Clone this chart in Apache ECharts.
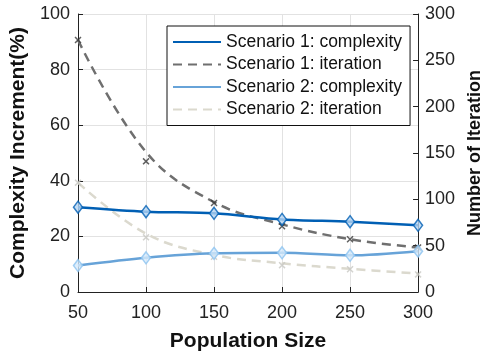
<!DOCTYPE html>
<html>
<head>
<meta charset="utf-8">
<script src="https://cdn.jsdelivr.net/npm/echarts@6/dist/echarts.min.js"></script>
<style>
  html, body { margin: 0; padding: 0; background: #fff; }
  #chart { width: 492px; height: 358px; }
</style>
</head>
<body>
<div id="chart"></div>
<script>
// data
var popSize = [50, 100, 150, 200, 250, 300];
var s1Complexity = [30.5, 28.9, 28.3, 26.1, 25.3, 24.0];
var s2Complexity = [9.5, 12.3, 13.9, 14.1, 13.2, 14.7];
// fitted (dashed) iteration curves
var s1IterFit = [272, 151, 97, 73, 57, 48];
var s2IterFit = [118, 63, 40, 31, 25, 20];
// measured iteration points
var s1IterObs = [272, 141, 96, 71, 57, 48];
var s2IterObs = [118, 59, 38, 29, 24.5, 19];
var leftTicks = [0, 20, 40, 60, 80, 100];
var rightTicks = [0, 50, 100, 150, 200, 250, 300];

function pairs(ys) {
  return popSize.map(function (x, i) { return [x, ys[i]]; });
}

var FONT = 'Liberation Sans';
// small filled "x" marker
var crossPath = 'path://M1.5,0L5,3.5L8.5,0L10,1.5L6.5,5L10,8.5L8.5,10L5,6.5L1.5,10L0,8.5L3.5,5L0,1.5Z';

var chart = echarts.init(document.getElementById('chart'));
var option = {
  animation: false,
  textStyle: { fontFamily: FONT },
  grid: { left: 76, right: 72, top: 14, bottom: 66 },
  legend: {
    orient: 'vertical',
    left: 167,
    top: 26,
    padding: [7, 8, 7, 5],
    itemWidth: 48,
    itemHeight: 18,
    itemGap: 4.5,
    backgroundColor: '#fff',
    borderColor: '#111',
    borderWidth: 1,
    // hide the symbol drawn in the middle of the legend line
    itemStyle: { opacity: 0, borderWidth: 0 },
    textStyle: { fontFamily: FONT, fontSize: 17.5, color: '#111', lineHeight: 18 },
    data: ['Scenario 1: complexity', 'Scenario 1: iteration', 'Scenario 2: complexity', 'Scenario 2: iteration']
  },
  xAxis: {
    type: 'value',
    min: 50,
    max: 300,
    interval: 50,
    name: 'Population Size',
    nameLocation: 'middle',
    nameGap: 39,
    nameTextStyle: { fontFamily: FONT, fontSize: 21, fontWeight: 'bold', color: '#111' },
    axisLine: { onZero: false, lineStyle: { color: '#222', width: 1 } },
    axisTick: { inside: true, length: 5, lineStyle: { color: '#222' } },
    axisLabel: { margin: 12, fontSize: 18, color: '#222', fontFamily: FONT },
    splitLine: { show: true, lineStyle: { color: '#e2e2e2', width: 1 } }
  },
  yAxis: [
    {
      type: 'value',
      min: leftTicks[0],
      max: leftTicks[leftTicks.length - 1],
      interval: 20,
      name: 'Complexity Increment(%)',
      nameLocation: 'middle',
      nameRotate: 90,
      nameGap: 49,
      nameTextStyle: { fontFamily: FONT, fontSize: 21, fontWeight: 'bold', color: '#111' },
      axisLine: { show: true, lineStyle: { color: '#222', width: 1 } },
      axisTick: { show: true, inside: true, length: 5, lineStyle: { color: '#222' } },
      axisLabel: { margin: 8, fontSize: 18, color: '#222', fontFamily: FONT },
      splitLine: { show: true, lineStyle: { color: '#e2e2e2', width: 1 } }
    },
    {
      type: 'value',
      position: 'right',
      min: rightTicks[0],
      max: rightTicks[rightTicks.length - 1],
      interval: 50,
      name: 'Number of Iteration',
      nameLocation: 'middle',
      nameRotate: 90,
      nameGap: 46,
      nameTextStyle: { fontFamily: FONT, fontSize: 18, fontWeight: 'bold', color: '#111' },
      axisLine: { show: true, lineStyle: { color: '#222', width: 1 } },
      axisTick: { show: true, inside: true, length: 5, lineStyle: { color: '#222' } },
      axisLabel: { margin: 7, fontSize: 18, color: '#222', fontFamily: FONT },
      splitLine: { show: false }
    }
  ],
  series: [
    // iteration curves (right axis)
    {
      name: 'Scenario 2: iteration',
      type: 'line',
      yAxisIndex: 1,
      smooth: 0.4,
      symbol: 'none',
      data: pairs(s2IterFit),
      lineStyle: { color: '#dbd9ce', width: 2.5, type: [9, 6] },
      itemStyle: { color: '#dbd9ce' },
      z: 2
    },
    {
      name: 'Scenario 1: iteration',
      type: 'line',
      yAxisIndex: 1,
      smooth: 0.4,
      symbol: 'none',
      data: pairs(s1IterFit),
      lineStyle: { color: '#6f6f6f', width: 2.5, type: [9, 6] },
      itemStyle: { color: '#6f6f6f' },
      z: 2
    },
    {
      type: 'scatter',
      yAxisIndex: 1,
      symbol: crossPath,
      symbolSize: 7,
      data: pairs(s2IterObs),
      itemStyle: { color: '#c8c8c3' },
      z: 3
    },
    {
      type: 'scatter',
      yAxisIndex: 1,
      symbol: crossPath,
      symbolSize: 7,
      data: pairs(s1IterObs),
      itemStyle: { color: '#383838' },
      z: 3
    },
    // complexity lines (left axis)
    {
      name: 'Scenario 2: complexity',
      type: 'line',
      smooth: 0.3,
      symbol: 'none',
      data: pairs(s2Complexity),
      lineStyle: { color: '#67a3d8', width: 2.5 },
      itemStyle: { color: '#67a3d8' },
      z: 4
    },
    {
      name: 'Scenario 1: complexity',
      type: 'line',
      smooth: 0.3,
      symbol: 'none',
      data: pairs(s1Complexity),
      lineStyle: { color: '#005fb4', width: 2.5 },
      itemStyle: { color: '#005fb4' },
      z: 4
    },
    {
      type: 'scatter',
      symbol: 'diamond',
      symbolSize: [9, 12],
      data: pairs(s2Complexity),
      itemStyle: { color: '#d6eafb', borderColor: '#8cc3f0', borderWidth: 1.5 },
      z: 5
    },
    {
      type: 'scatter',
      symbol: 'diamond',
      symbolSize: [9, 12],
      data: pairs(s1Complexity),
      itemStyle: { color: '#b5d5f3', borderColor: '#005fb4', borderWidth: 1.5 },
      z: 5
    }
  ]
};
chart.setOption(option);
</script>
</body>
</html>
